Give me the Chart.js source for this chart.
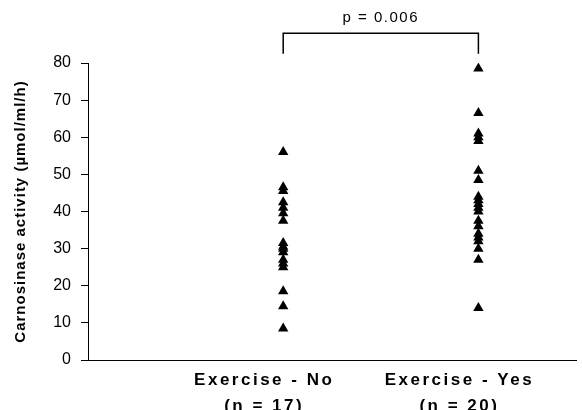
<!DOCTYPE html>
<html>
<head>
<meta charset="utf-8">
<script src="https://cdn.jsdelivr.net/npm/chart.js@4"></script>
<style>
  html, body { margin: 0; padding: 0; background: #fff; }
  #wrap { width: 582px; height: 410px; }
</style>
</head>
<body>
<div id="wrap"><canvas id="activityChart"></canvas></div>
<script>
// groups and sizes
const categories = ['Exercise - No', 'Exercise - Yes'];
const sampleSizes = [17, 20];

// carnosinase activity per subject (umol/ml/h)
const exerciseNo = [56, 46.5, 45.5, 42.5, 41, 39.5, 37.5, 31.5, 30.5, 30, 29, 27, 26, 25, 18.5, 14.5, 8.5];
const exerciseYes = [78.5, 66.5, 61, 60, 59, 51, 48.5, 44, 43, 42, 41, 40, 37.5, 36, 34, 33, 32, 30, 27, 14];

const yTicks = [0, 10, 20, 30, 40, 50, 60, 70, 80];

// significance bracket between the two groups
const pLabel = 'p = 0.006';
const bracketTop = 88;
const bracketBottom = 82.5;

const font = '"Liberation Sans", Arial, Helvetica, sans-serif';

function toPoints(values, pos) {
    return values.map(v => ({ x: pos, y: v }));
}

// wrap a scale draw method so its text gets some letter spacing
function spaced(scale, method, spacing) {
    const orig = scale[method];
    scale[method] = function(area) {
        this.ctx.save();
        this.ctx.letterSpacing = spacing;
        orig.call(this, area);
        this.ctx.restore();
    };
}

const spacedText = {
    id: 'spacedText',
    afterUpdate(chart) {
        const xs = chart.scales.x, ys = chart.scales.y;
        if (xs._spaced) return;
        spaced(xs, 'drawLabels', '2.5px');
        spaced(ys, 'drawTitle', '1px');
        xs._spaced = true;
    }
};

// bracket + p value above the groups
const bracketPlugin = {
    id: 'bracket',
    afterDraw(chart) {
        const ctx = chart.ctx;
        const x = chart.scales.x, y = chart.scales.y;
        const x1 = x.getPixelForValue(1), x2 = x.getPixelForValue(2);
        const yt = y.getPixelForValue(bracketTop), yb = y.getPixelForValue(bracketBottom);
        ctx.save();
        ctx.strokeStyle = '#000';
        ctx.lineWidth = 1.5;
        ctx.beginPath();
        ctx.moveTo(x1, yb);
        ctx.lineTo(x1, yt);
        ctx.lineTo(x2, yt);
        ctx.lineTo(x2, yb);
        ctx.stroke();
        ctx.fillStyle = '#000';
        ctx.font = '15px ' + font;
        ctx.letterSpacing = '1.5px';
        ctx.textAlign = 'center';
        ctx.textBaseline = 'middle';
        ctx.fillText(pLabel, (x1 + x2) / 2, yt - 15);
        ctx.restore();
    }
};

const ctx = document.getElementById('activityChart').getContext('2d');
const chart = new Chart(ctx, {
    type: 'scatter',
    data: {
        datasets: [
            { label: categories[0], data: toPoints(exerciseNo, 1) },
            { label: categories[1], data: toPoints(exerciseYes, 2) }
        ]
    },
    options: {
        responsive: true,
        maintainAspectRatio: false,
        animation: false,
        layout: { padding: { top: 63, right: 0, bottom: 0, left: 0 } },
        elements: {
            point: {
                pointStyle: 'triangle',
                radius: 6,
                backgroundColor: '#000',
                borderColor: '#000',
                borderWidth: 0
            }
        },
        plugins: {
            legend: { display: false },
            tooltip: { enabled: false }
        },
        scales: {
            x: {
                type: 'linear',
                min: 0,
                max: 2.5,
                afterBuildTicks: s => { s.ticks = categories.map((c, i) => ({ value: i + 1 })); },
                afterFit: s => { s.height = 50; },
                border: { color: '#000', width: 1 },
                grid: { display: false, drawTicks: false },
                ticks: {
                    padding: 8,
                    labelOffset: -19,
                    color: '#000',
                    font: { family: font, size: 17, weight: 'bold', lineHeight: 1.5 },
                    callback: (v) => {
                        const i = Math.round(v) - 1;
                        return [categories[i], '(n = ' + sampleSizes[i] + ')'];
                    }
                }
            },
            y: {
                min: 0,
                max: 80,
                afterBuildTicks: s => { s.ticks = yTicks.map(v => ({ value: v })); },
                afterFit: s => { s.width = 88; },
                border: { color: '#000', width: 1 },
                grid: { drawOnChartArea: false, drawTicks: true, tickLength: 7, color: '#000' },
                ticks: {
                    padding: 10,
                    color: '#000',
                    font: { family: font, size: 16 }
                },
                title: {
                    display: true,
                    text: 'Carnosinase activity (µmol/ml/h)',
                    color: '#000',
                    font: { family: font, size: 15, weight: 'bold' },
                    padding: { top: 12, bottom: 0 }
                }
            }
        }
    },
    plugins: [spacedText, bracketPlugin]
});
</script>
</body>
</html>
